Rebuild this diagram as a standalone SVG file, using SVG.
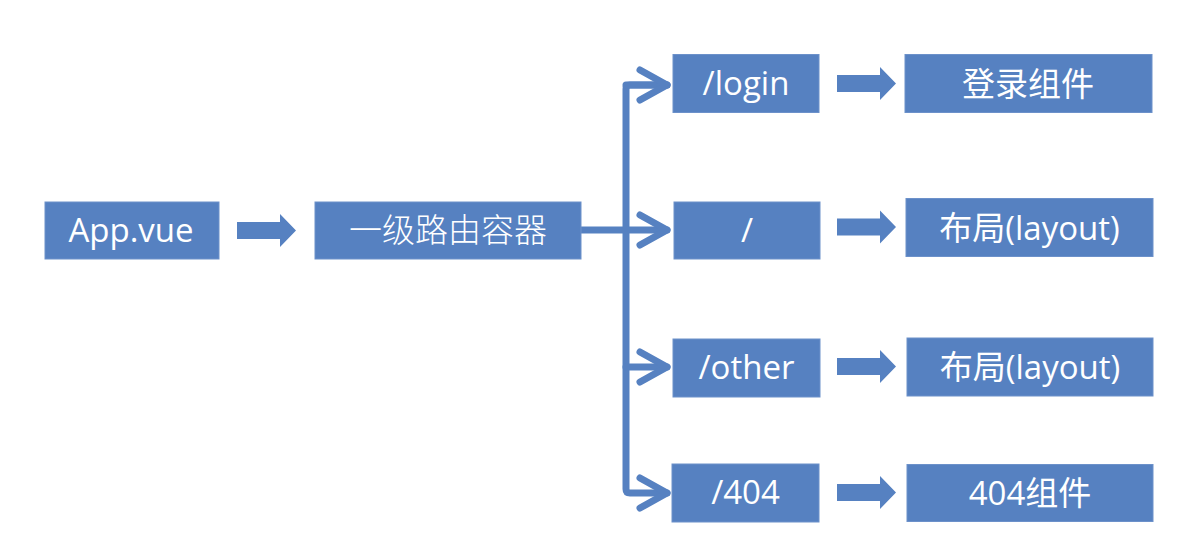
<svg xmlns="http://www.w3.org/2000/svg" xmlns:xlink="http://www.w3.org/1999/xlink" width="1204" height="555" viewBox="0 0 1204 555">
<style>
  .box { fill: #5681C1; stroke: #6C91CA; stroke-width: 1; }
  .lbl { fill: #FFFFFF; font-family: "Open Sans", "Noto Sans CJK SC", sans-serif; font-size: 33px; text-anchor: middle; }
  .cjk { font-family: "Noto Sans CJK SC", "Open Sans", sans-serif; font-size: 33px; }
  .light { font-weight: 300; }
  .line { fill: none; stroke: #5681C1; stroke-width: 7; stroke-linecap: round; stroke-linejoin: round; }
  .blk { fill: #5681C1; }
</style>
<defs>
  <marker id="chev" markerUnits="userSpaceOnUse" viewBox="-34 -20 40 40" refX="0" refY="0" markerWidth="40" markerHeight="40" orient="auto" overflow="visible">
    <path d="M-27,-15 L0,0 L-27,15" fill="none" stroke="#5681C1" stroke-width="7" stroke-linecap="round" stroke-linejoin="round"/>
  </marker>
  <path id="blkarrow" d="M0,-8.5 H43 V-16.5 L59,0 L43,16.5 V8.5 H0 Z"/>
</defs>
<rect width="1204" height="555" fill="#FFFFFF"/>

<g id="connectors">
  <use xlink:href="#blkarrow" class="blk" x="237" y="230.5"/>
  <path class="line" d="M581,230 H667" marker-end="url(#chev)"/>
  <path class="line" d="M667,85 H630 Q626,85 626,89 V489 Q626,493 630,493 H667" marker-end="url(#chev)"/>
  <path class="line" d="M626,85 H667" marker-end="url(#chev)"/>
  <path class="line" d="M626,367 H667" marker-end="url(#chev)"/>
  <use xlink:href="#blkarrow" class="blk" x="837" y="83.5"/>
  <use xlink:href="#blkarrow" class="blk" x="837" y="227"/>
  <use xlink:href="#blkarrow" class="blk" x="837" y="366.5"/>
  <use xlink:href="#blkarrow" class="blk" x="837" y="492.5"/>
</g>

<g id="node-app">
  <rect class="box" x="45" y="202" width="174" height="57"/>
  <text class="lbl" x="131" y="242">App.vue</text>
</g>
<g id="node-router">
  <rect class="box" x="315" y="202" width="266" height="57"/>
  <text class="lbl cjk light" x="448" y="242">一级路由容器</text>
</g>
<g id="node-login">
  <rect class="box" x="673" y="54.5" width="146" height="58"/>
  <text class="lbl" x="746" y="95">/login</text>
</g>
<g id="node-root">
  <rect class="box" x="674" y="202" width="146" height="57"/>
  <text class="lbl" x="747" y="242">/</text>
</g>
<g id="node-other">
  <rect class="box" x="673" y="339" width="147" height="58"/>
  <text class="lbl" x="746.5" y="379">/other</text>
</g>
<g id="node-404">
  <rect class="box" x="672" y="464" width="147" height="58"/>
  <text class="lbl" x="745.5" y="504">/404</text>
</g>
<g id="node-login-comp">
  <rect class="box" x="905" y="54.5" width="247" height="58"/>
  <text class="lbl cjk" x="1028" y="96">登录组件</text>
</g>
<g id="node-layout-1">
  <rect class="box" x="906" y="198.5" width="247" height="58"/>
  <text class="lbl" x="1029.5" y="239.5">布局(layout)</text>
</g>
<g id="node-layout-2">
  <rect class="box" x="907" y="338" width="246" height="58"/>
  <text class="lbl" x="1030" y="379">布局(layout)</text>
</g>
<g id="node-404-comp">
  <rect class="box" x="907" y="464.5" width="246" height="57"/>
  <text class="lbl" x="1030" y="505">404组件</text>
</g>
</svg>
